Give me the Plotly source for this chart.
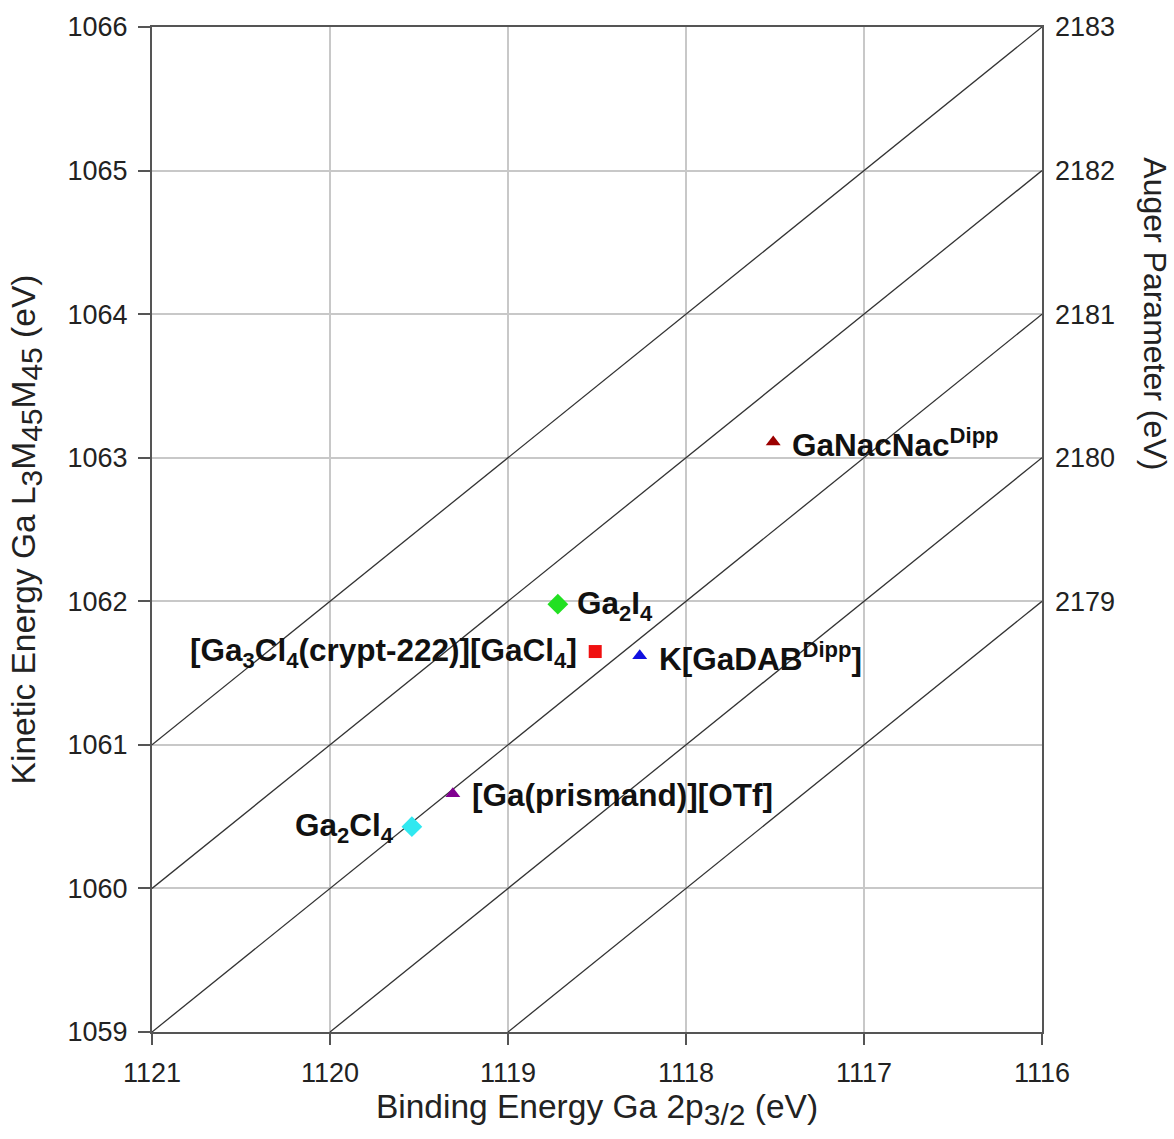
import plotly.graph_objects as go

# ---- data ----
compounds = [
    "GaNacNac<sup>Dipp</sup>",
    "Ga<sub>2</sub>I<sub>4</sub>",
    "[Ga<sub>3</sub>Cl<sub>4</sub>(crypt-222)][GaCl<sub>4</sub>]",
    "K[GaDAB<sup>Dipp</sup>]",
    "[Ga(prismand)][OTf]",
    "Ga<sub>2</sub>Cl<sub>4</sub>",
]
binding_energy = [1117.51, 1118.72, 1118.51, 1118.26, 1119.31, 1119.54]
kinetic_energy = [1063.11, 1061.98, 1061.65, 1061.62, 1060.66, 1060.43]
marker_symbols = ["triangle-up", "diamond", "square", "triangle-up", "triangle-up", "diamond"]
marker_colors = ["#9b0000", "#22e022", "#f01010", "#1010e0", "#800090", "#30e8f0"]
label_sides = ["right", "right", "left", "right", "right", "left"]

auger_sums = [2178, 2179, 2180, 2181, 2182]   # BE + KE for diagonal guide lines
x_ticks = [1121, 1120, 1119, 1118, 1117, 1116]
y_ticks = [1059, 1060, 1061, 1062, 1063, 1064, 1065, 1066]
right_tickvals = [1062, 1063, 1064, 1065, 1066]
right_ticktext = ["2179", "2180", "2181", "2182", "2183"]

x_range = [1121, 1116]
y_range = [1059, 1066]

FONT = "Liberation Sans, Arial, sans-serif"
SUB = '<sub><span style="font-size:30px">{}</span></sub>'

fig = go.Figure()

# diagonal constant-Auger-parameter lines
xmin, xmax = min(x_range), max(x_range)
ymin, ymax = min(y_range), max(y_range)
for s in auger_sums:
    be_hi = min(xmax, s - ymin)
    be_lo = max(xmin, s - ymax)
    fig.add_trace(go.Scatter(
        x=[be_hi, be_lo], y=[s - be_hi, s - be_lo],
        mode="lines", line=dict(color="#333333", width=1.3),
        showlegend=False, hoverinfo="skip", cliponaxis=False))

# data points
for name, bx, ky, sym, col, side in zip(compounds, binding_energy, kinetic_energy,
                                        marker_symbols, marker_colors, label_sides):
    size = 16 if sym == "diamond" else 13
    fig.add_trace(go.Scatter(
        x=[bx], y=[ky], mode="markers",
        marker=dict(symbol=sym, size=size, color=col, line=dict(width=0)),
        showlegend=False))
    fig.add_annotation(
        x=bx, y=ky, text="<b>" + name + "</b>", showarrow=False,
        xanchor="left" if side == "right" else "right", yanchor="middle",
        xshift=17 if side == "right" else -16, yshift=-1,
        font=dict(family=FONT, size=31.5, color="#111111"))

# invisible trace on the right axis
fig.add_trace(go.Scatter(x=[x_range[0]], y=[y_range[0]], yaxis="y2",
                         mode="markers", marker=dict(opacity=0),
                         showlegend=False, hoverinfo="skip"))

# right axis title (placed high, as in the original)
fig.add_annotation(
    xref="paper", yref="paper", x=1.126, y=0.715, text="Auger Parameter (eV)",
    showarrow=False, textangle=90, xanchor="center", yanchor="middle",
    font=dict(family=FONT, size=32, color="#222222"))

axis_line = "#555555"
grid = "#c8c8c8"

fig.update_layout(
    width=1174, height=1139,
    margin=dict(l=152, r=132, t=27, b=107),
    paper_bgcolor="white", plot_bgcolor="white",
    font=dict(family=FONT, size=27, color="#222222"),
    xaxis=dict(
        range=x_range, tickvals=x_ticks, ticks="outside", ticklen=11, tickwidth=2,
        tickcolor=axis_line, showline=True, linecolor=axis_line, linewidth=2,
        mirror=True, showgrid=True, gridcolor=grid, gridwidth=1.5, zeroline=False,
        tickfont=dict(size=27), ticklabelstandoff=5,
        title=dict(text="Binding Energy Ga 2p" + SUB.format("3/2") + " (eV)",
                   font=dict(size=33.5), standoff=5),
    ),
    yaxis=dict(
        range=y_range, tickvals=y_ticks, ticks="outside", ticklen=12, tickwidth=2,
        tickcolor=axis_line, showline=True, linecolor=axis_line, linewidth=2,
        mirror=True, showgrid=True, gridcolor=grid, gridwidth=1.5, zeroline=False,
        tickfont=dict(size=27), ticklabelstandoff=5,
        title=dict(text="Kinetic Energy Ga L" + SUB.format("3") + "M" + SUB.format("45")
                   + "M" + SUB.format("45") + " (eV)",
                   font=dict(size=33.5), standoff=22),
    ),
    yaxis2=dict(
        range=y_range, overlaying="y", side="right", tickvals=right_tickvals,
        ticktext=right_ticktext, ticks="", showgrid=False, zeroline=False,
        showline=False, tickfont=dict(size=27), ticklabelstandoff=12,
    ),
)

fig.write_html("out.html")
